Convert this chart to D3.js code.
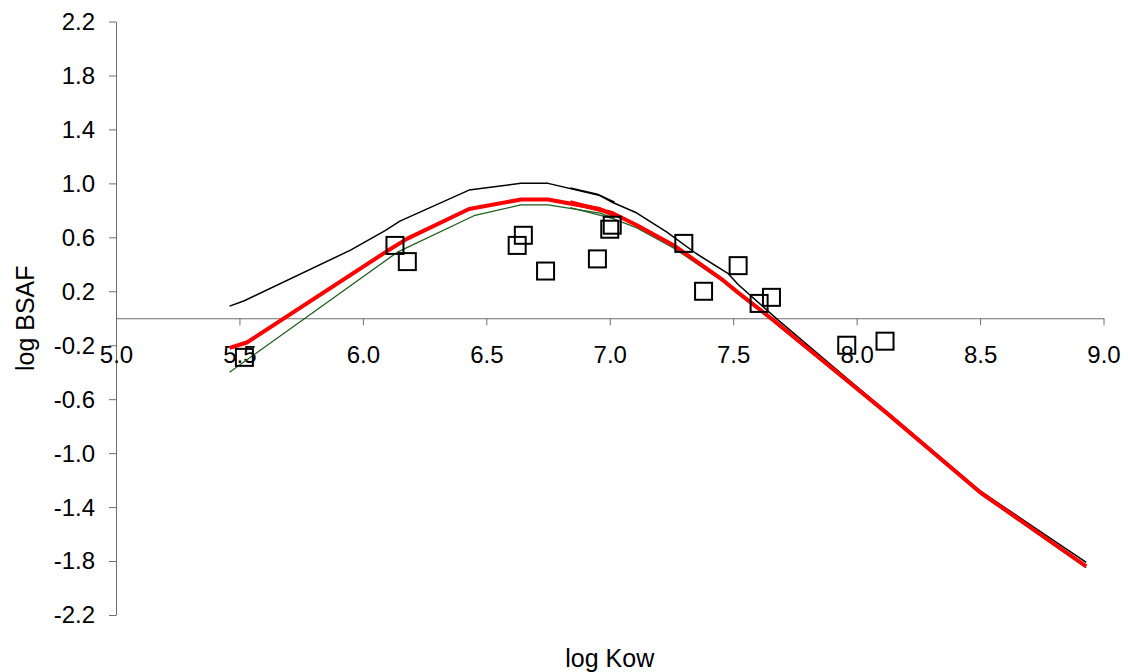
<!DOCTYPE html>
<html>
<head>
<meta charset="utf-8">
<script src="https://cdn.jsdelivr.net/npm/d3@7"></script>
<style>
  html, body { margin: 0; padding: 0; background: #fff; }
  svg text { font-family: "Liberation Sans", Arial, sans-serif; fill: #000; }
</style>
</head>
<body>
<svg id="chart" width="1131" height="672"></svg>
<script>
// ---- Data ----
const xTicks = [5.0, 5.5, 6.0, 6.5, 7.0, 7.5, 8.0, 8.5, 9.0];
const yTicks = [2.2, 1.8, 1.4, 1.0, 0.6, 0.2, -0.2, -0.6, -1.0, -1.4, -1.8, -2.2];
const xTitle = "log Kow";
const yTitle = "log BSAF";

// observed log Kow / log BSAF (squares)
const obsKow  = [5.52, 6.13, 6.18, 6.625, 6.65, 6.74, 6.95, 7.00, 7.01, 7.30, 7.38, 7.52, 7.605, 7.655, 7.96, 8.115];
const obsBsaf = [-0.29, 0.54, 0.42, 0.54, 0.615, 0.35, 0.44, 0.66, 0.69, 0.555, 0.20, 0.39, 0.11, 0.155, -0.20, -0.17];

// model curves, each in two overlapping pieces
const blackLowKow   = [5.46, 5.52, 5.95, 6.09, 6.15, 6.43, 6.64, 6.75, 6.96, 7.02];
const blackLowBsaf  = [0.09, 0.13, 0.505, 0.65, 0.72, 0.95, 1.00, 1.00, 0.91, 0.86];
const blackHighKow  = [6.84, 6.95, 7.01, 7.11, 7.23, 7.35, 7.48, 7.52, 7.68, 7.97, 8.12, 8.50, 8.93];
const blackHighBsaf = [0.965, 0.92, 0.86, 0.78, 0.64, 0.48, 0.33, 0.25, -0.01, -0.46, -0.69, -1.28, -1.81];

const redLowKow   = [5.46, 5.53, 6.10, 6.18, 6.43, 6.64, 6.75, 6.96, 7.02];
const redLowBsaf  = [-0.22, -0.18, 0.50, 0.59, 0.81, 0.88, 0.88, 0.81, 0.76];
const redHighKow  = [6.84, 7.01, 7.11, 7.26, 7.46, 7.52, 7.66, 7.96, 8.12, 8.50, 8.93];
const redHighBsaf = [0.86, 0.78, 0.69, 0.54, 0.28, 0.19, -0.01, -0.46, -0.70, -1.29, -1.84];

const greenLowKow   = [5.46, 6.14, 6.45, 6.64, 6.75, 6.96, 7.02];
const greenLowBsaf  = [-0.40, 0.49, 0.76, 0.84, 0.84, 0.78, 0.74];
const greenHighKow  = [6.84, 7.01, 7.11, 7.26, 7.46, 7.52, 7.66, 7.96, 8.12, 8.50, 8.93];
const greenHighBsaf = [0.82, 0.74, 0.67, 0.52, 0.27, 0.18, -0.02, -0.47, -0.71, -1.30, -1.85];

// ---- Layout ----
const svg = d3.select("#chart");
const x = d3.scaleLinear().domain([5.0, 9.0]).range([116, 1103.5]);
const y = d3.scaleLinear().domain([-2.2, 2.2]).range([615, 21.5]);
const axisColor = "#6e6e6e";
const fmt = d => d.toFixed(1);

// Y axis
const gy = svg.append("g").attr("transform", `translate(${x(5.0)},0)`)
  .call(d3.axisLeft(y).tickValues(yTicks).tickFormat(fmt).tickSize(7).tickSizeOuter(0));
gy.select(".domain").attr("stroke", axisColor);
gy.selectAll(".tick line").attr("stroke", axisColor);
gy.selectAll(".tick text").attr("x", -21).attr("dy", "0.33em")
  .style("font-size", "24px").attr("fill", "#000");

// X axis at y=0
const gx = svg.append("g").attr("transform", `translate(0,${y(0)})`)
  .call(d3.axisBottom(x).tickValues(xTicks).tickFormat(fmt).tickSize(7).tickSizeOuter(0));
gx.select(".domain").attr("stroke", axisColor);
gx.selectAll(".tick line").attr("stroke", axisColor);
gx.selectAll(".tick text").attr("y", 45).attr("dy", 0)
  .style("font-size", "24px").attr("fill", "#000");

// Titles
svg.append("text").attr("x", (x(5.0) + x(9.0)) / 2).attr("y", 667)
  .attr("text-anchor", "middle").style("font-size", "25px").text(xTitle);
svg.append("text").attr("transform", `translate(34,${y(0)}) rotate(-90)`)
  .attr("text-anchor", "middle").style("font-size", "25px").text(yTitle);

// Lines
const line = d3.line().x(d => x(d[0])).y(d => y(d[1]));
const zip = (a, b) => a.map((v, i) => [v, b[i]]);
const curves = [
  { k: blackLowKow, v: blackLowBsaf, color: "#000", w: 1.5 },
  { k: blackHighKow, v: blackHighBsaf, color: "#000", w: 1.5 },
  { k: greenLowKow, v: greenLowBsaf, color: "#1f5f1f", w: 1.3 },
  { k: greenHighKow, v: greenHighBsaf, color: "#1f5f1f", w: 1.3 },
  { k: redLowKow, v: redLowBsaf, color: "#ff0000", w: 4 },
  { k: redHighKow, v: redHighBsaf, color: "#ff0000", w: 4 }
];
svg.append("g").selectAll("path").data(curves).join("path")
  .attr("d", c => line(zip(c.k, c.v)))
  .attr("fill", "none").attr("stroke", c => c.color).attr("stroke-width", c => c.w)
  .attr("stroke-linejoin", "round");

// Squares
const s = 17;
svg.append("g").selectAll("rect").data(zip(obsKow, obsBsaf)).join("rect")
  .attr("x", d => x(d[0]) - s / 2).attr("y", d => y(d[1]) - s / 2)
  .attr("width", s).attr("height", s)
  .attr("fill", "none").attr("stroke", "#000").attr("stroke-width", 2);
</script>
</body>
</html>
